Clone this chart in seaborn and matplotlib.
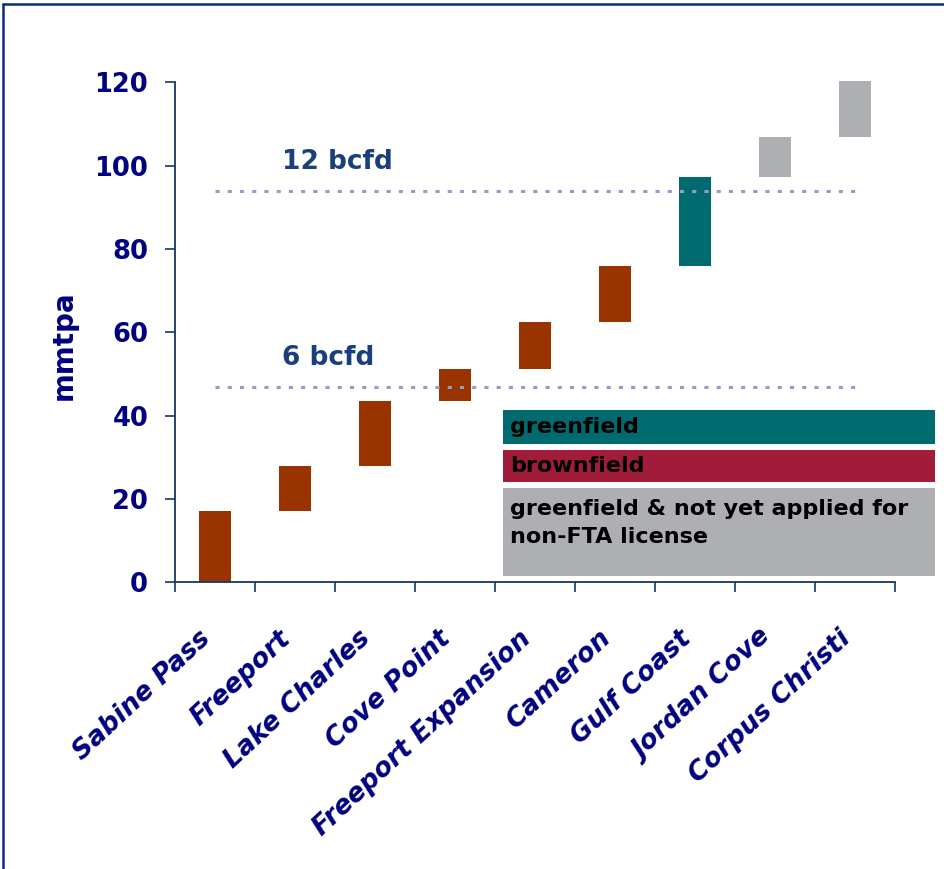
import matplotlib
matplotlib.use("Agg")
import matplotlib.pyplot as plt
import seaborn as sns
import pandas as pd
from matplotlib.patches import Rectangle
from matplotlib.lines import Line2D
from matplotlib.transforms import ScaledTranslation

# ---------------- data ----------------
terminals = ["Sabine Pass", "Freeport", "Lake Charles", "Cove Point",
             "Freeport Expansion", "Cameron", "Gulf Coast", "Jordan Cove",
             "Corpus Christi"]
bottoms = [0.0, 17.1, 27.9, 43.5, 51.2, 62.5, 75.9, 97.3, 106.9]
tops = [17.1, 27.9, 43.5, 51.2, 62.5, 75.9, 97.3, 106.9, 120.3]
status = ["brownfield", "brownfield", "brownfield", "brownfield",
          "brownfield", "brownfield", "greenfield", "not applied",
          "not applied"]
y_ticks = [0, 20, 40, 60, 80, 100, 120]
ref_levels = [46.9, 93.8]
ref_labels = ["6 bcfd", "12 bcfd"]
legend_labels = ["greenfield", "brownfield",
                 "greenfield & not yet applied for\nnon-FTA license"]

# ---------------- style ----------------
sns.set_theme(style="white")
plt.rcParams["font.family"] = ["DejaVu Sans"]

NAVY = "#000080"
AXIS = "#17375E"
bar_colors = {"brownfield": "#993300", "greenfield": "#006B6E",
              "not applied": "#AEAFB3"}
legend_colors = ["#006B6E", "#A01C38", "#AEAFB3"]

W, H = 944, 869
fig = plt.figure(figsize=(W / 100, H / 100), dpi=100)
fig.patch.set_facecolor("white")
ax = fig.add_axes([175.3 / W, 1 - 582.3 / H, 720 / W, 500 / H])
ax.set_facecolor("white")

df = pd.DataFrame({"terminal": terminals,
                   "span": [t - b for t, b in zip(tops, bottoms)],
                   "status": status})
palette = {t: bar_colors[s] for t, s in zip(terminals, status)}
sns.barplot(data=df, x="terminal", y="span", hue="terminal",
            order=terminals, hue_order=terminals, palette=palette,
            width=0.4, saturation=1, legend=False, linewidth=0, ax=ax)
for p, b in zip(ax.patches, bottoms):
    p.set_y(b)
    p.set_clip_on(False)

# reference lines
for lvl, lab in zip(ref_levels, ref_labels):
    ax.plot([0, len(terminals) - 1], [lvl, lvl], color="#9999CC", lw=2.2,
            linestyle=(0, (1.35, 2.65)), dash_capstyle="butt", zorder=3)
    ax.text(0.83, lvl + 7.0, lab, color="#1B3F7A", fontsize=19,
            fontweight="bold", ha="left", va="center")

# axes
ax.set_xlim(-0.5, len(terminals) - 0.5)
ax.set_ylim(0, 120)
ax.set_xlabel("")
ax.set_ylabel("mmtpa", fontsize=20, fontweight="bold", color=NAVY)
ax.yaxis.set_label_coords(-0.135, 0.475)
for s in ["top", "right"]:
    ax.spines[s].set_visible(False)
for s in ["left", "bottom"]:
    ax.spines[s].set_color(AXIS)
    ax.spines[s].set_linewidth(1.3)

ax.set_yticks(y_ticks)
ax.set_yticklabels([str(v) for v in y_ticks])
ax.tick_params(axis="y", left=True, length=7.5, width=1.2, color=AXIS,
               pad=12, labelsize=18.5, labelcolor=NAVY)
for lab in ax.get_yticklabels():
    lab.set_fontweight("bold")

ax.set_xticks(range(len(terminals)))
ax.set_xticklabels(terminals)
ax.set_xticks([i - 0.5 for i in range(len(terminals) + 1)], minor=True)
ax.tick_params(axis="x", which="major", bottom=True, length=0, pad=38,
               labelsize=19, labelcolor=NAVY)
ax.tick_params(axis="x", which="minor", bottom=True, length=7.5, width=1.2,
               color=AXIS)
shift = ScaledTranslation(-8 / 100, 0, fig.dpi_scale_trans)
for lab in ax.get_xticklabels():
    lab.set_rotation(43)
    lab.set_ha("right")
    lab.set_va("center")
    lab.set_rotation_mode("anchor")
    lab.set_fontweight("bold")
    lab.set_fontstyle("italic")
    lab.set_transform(lab.get_transform() + shift)

# legend boxes (figure coords)
def fx(px):
    return px / W

def fy(py):
    return 1 - py / H

boxes = [(410, 444), (450, 482), (488, 576)]
text_y = [427, 466, 523]
for (y0, y1), col, lab, ty in zip(boxes, legend_colors, legend_labels, text_y):
    fig.add_artist(Rectangle((fx(503), fy(y1)), fx(935) - fx(503),
                             (y1 - y0) / H, transform=fig.transFigure,
                             facecolor=col, edgecolor="none", zorder=5))
    fig.text(fx(510), fy(ty), lab, color="black", fontsize=16,
             fontweight="bold", ha="left", va="center", zorder=6,
             linespacing=1.45)

# frame (top & left)
fig.add_artist(Line2D([fx(3), fx(3)], [0, fy(4)], transform=fig.transFigure,
                      color="#0A2A7A", lw=1.8))
fig.add_artist(Line2D([fx(3), 1], [fy(4), fy(4)], transform=fig.transFigure,
                      color="#0A2A7A", lw=1.8))

fig.savefig("out.png", dpi=100, facecolor="white")
